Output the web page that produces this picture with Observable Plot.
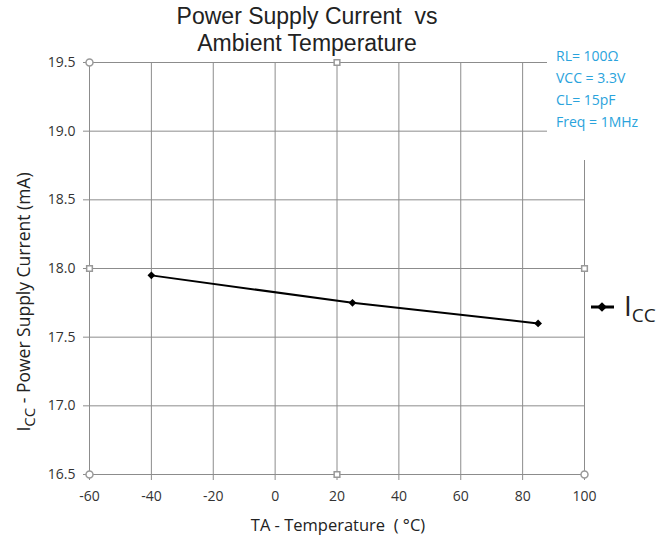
<!DOCTYPE html>
<html><head><meta charset="utf-8">
<script src="https://cdn.jsdelivr.net/npm/d3@7"></script>
<script src="https://cdn.jsdelivr.net/npm/@observablehq/plot@0.6"></script>
<style>
body{margin:0;background:#fff;}
#chart{position:relative;width:668px;height:539px;}
svg{font-family:"Open Sans",sans-serif;}
</style></head>
<body><div id="chart"></div>
<script>
const temperature = [-40, 25, 85];
const icc = [17.95, 17.75, 17.6];
const xTicks = [-60, -40, -20, 0, 20, 40, 60, 80, 100];
const yTicks = [16.5, 17.0, 17.5, 18.0, 18.5, 19.0, 19.5];
const conditions = ["RL= 100Ω", "VCC = 3.3V", "CL= 15pF", "Freq = 1MHz"];
const titleLines = ["Power Supply Current  vs", "Ambient Temperature"];

const data = temperature.map((t, i) => ({t, v: icc[i]}));
const xd = [xTicks[0], xTicks[xTicks.length-1]];
const yd = [yTicks[0], yTicks[yTicks.length-1]];
const xm = (xd[0]+xd[1])/2, ym = (yd[0]+yd[1])/2;
const circles = [{x:xd[0],y:yd[1]},{x:xd[0],y:yd[0]},{x:xd[1],y:yd[0]}];
const squares = [{x:xm,y:yd[1]},{x:xd[0],y:ym},{x:xd[1],y:ym},{x:xm,y:yd[0]}];

const W = 668, H = 539, ML = 89, MR = 84, MT = 62, MB = 65;
const plot = Plot.plot({
  width: W, height: H,
  marginLeft: ML, marginRight: MR, marginTop: MT, marginBottom: MB,
  style: {fontFamily: '"Open Sans", sans-serif', fontSize: "14px", color: "#333", background: "#fff"},
  x: {domain: xd, ticks: xTicks, label: null},
  y: {domain: yd, ticks: yTicks, label: null},
  marks: [
    Plot.gridX(xTicks, {stroke: "#8c8c8c", strokeOpacity: 1, strokeWidth: 1}),
    Plot.gridY(yTicks, {stroke: "#8c8c8c", strokeOpacity: 1, strokeWidth: 1}),
    Plot.axisX(xTicks, {tickSize: 6, stroke: "#8c8c8c", tickPadding: 11, fill: "#333", fontSize: 14, tickFormat: d => String(d)}),
    Plot.axisY(yTicks, {tickSize: 6, stroke: "#8c8c8c", tickPadding: 8, fill: "#333", fontSize: 14, tickFormat: d => d.toFixed(1)}),
    Plot.line(data, {x: "t", y: "v", stroke: "#000", strokeWidth: 2}),
    Plot.dot(data, {x: "t", y: "v", symbol: "diamond2", fill: "#000", r: 3.5}),
    Plot.dot(circles, {x: "x", y: "y", symbol: "circle", fill: "#fff", stroke: "#999", r: 3.5}),
    Plot.dot(squares, {x: "x", y: "y", symbol: "square", fill: "#fff", stroke: "#999", r: 3.2})
  ]
});
document.getElementById("chart").appendChild(plot);

const svg = d3.select(plot);
// white box behind conditions
svg.append("rect").attr("x", 547).attr("y", 40).attr("width", W-547).attr("height", 120).attr("fill", "#fff");
const cond = svg.append("g").attr("font-size", 14).attr("fill", "#2aa3dc").attr("text-anchor", "start");
conditions.forEach((c, i) => {
  cond.append("text").attr("x", 556).attr("y", 61 + i*22).text(c);
});
// title
const tg = svg.append("g").attr("font-size", 23).attr("font-family", '"Liberation Sans", Arial, sans-serif')
  .attr("fill", "#222").attr("text-anchor", "middle");
titleLines.forEach((l, i) => tg.append("text").attr("x", 307).attr("y", 24 + i*26.5).text(l));
// x label
svg.append("text").attr("x", 338).attr("y", 531).attr("text-anchor", "middle")
  .attr("font-size", 16.5).attr("fill", "#222").text("TA - Temperature  ( °C)");
// y label
const yl = svg.append("text").attr("transform", "translate(30,302) rotate(-90)")
  .attr("text-anchor", "middle").attr("font-size", 17.5).attr("fill", "#222");
yl.append("tspan").text("I");
yl.append("tspan").attr("dy", 5).attr("font-size", 15).text("CC");
yl.append("tspan").attr("dy", -5).text(" - Power Supply Current (mA)");
// legend
const lg = svg.append("g").attr("text-anchor", "start");
lg.append("line").attr("x1", 591).attr("x2", 614).attr("y1", 307).attr("y2", 307).attr("stroke", "#000").attr("stroke-width", 3);
lg.append("path").attr("d", d3.symbol(d3.symbolDiamond2, 60)()).attr("transform", "translate(602,307)").attr("fill", "#000");
const lt = lg.append("text").attr("x", 624).attr("y", 316).attr("font-size", 28).attr("fill", "#222");
lt.append("tspan").text("I");
lt.append("tspan").attr("dy", 6).attr("font-size", 19).text("CC");
</script>
</body></html>
